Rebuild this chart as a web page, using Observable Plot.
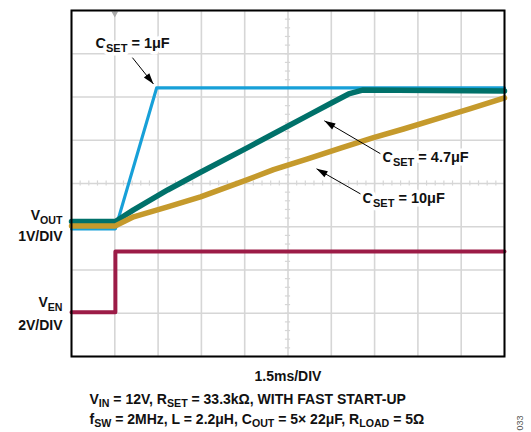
<!DOCTYPE html>
<html><head><meta charset="utf-8">
<script src="https://cdn.jsdelivr.net/npm/d3@7"></script>
<script src="https://cdn.jsdelivr.net/npm/@observablehq/plot@0.6"></script>
<style>body{margin:0;background:#fff} svg{display:block}</style>
</head><body><div id="chart"></div>
<script>
// ---- Scope settings ----
const msPerDiv = 1.5;                       // 1.5ms/DIV
const xGridMs = [0, 1.5, 3, 4.5, 6, 7.5, 9, 10.5, 12, 13.5, 15];
const yGridDiv = [0, 1, 2, 3, 4, 5, 6, 7, 8];
const voutOffsetDiv = 3, voutVoltsPerDiv = 1;   // VOUT 1V/DIV
const enOffsetDiv = 1, enVoltsPerDiv = 2;       // VEN 2V/DIV
const triggerMs = [1.5];

// ---- Traces (time in ms, voltage in V) ----
const c1Time  = [0, 1.52, 2.95, 15];
const c1Vout  = [-0.05, -0.05, 3.21, 3.21];

const c47Time = [0, 1.52, 2.15, 3.33, 4.47, 6.10, 7.00, 8.18, 8.97, 9.60, 10.08, 15];
const c47Vout = [0.12, 0.12, 0.39, 0.85, 1.26, 1.83, 2.15, 2.57, 2.85, 3.07, 3.16, 3.14];

const c10Time = [0, 1.52, 2.15, 3.33, 4.47, 6.10, 7.00, 8.18, 9.32, 10.46, 11.50, 12.68, 13.82, 15];
const c10Vout = [0.02, 0.02, 0.23, 0.46, 0.69, 1.09, 1.32, 1.57, 1.82, 2.06, 2.26, 2.50, 2.73, 2.98];

const enTime  = [0, 1.52, 1.52, 15];
const enVolts = [0.05, 0.05, 2.86, 2.86];

// ---- Annotations (time in ms, position in divisions) ----
const annLabels = ["C_{SET} = 1μF", "C_{SET} = 4.7μF", "C_{SET} = 10μF"];
const annLabelT = [0.83, 10.77, 10.08];
const annLabelY = [7.23, 4.60, 3.65];
const annFromT  = [2.11, 10.70, 10.01];
const annFromY  = [6.91, 4.69, 3.76];
const annToT    = [2.84, 8.76, 8.49];
const annToY    = [6.30, 5.45, 4.34];

const sideLabels = ["V_{OUT}", "1V/DIV", "V_{EN}", "2V/DIV"];
const sideLabelY = [3.25, 2.77, 1.24, 0.71];

const xLabel = "1.5ms/DIV";
const captionLines = [
  "V_{IN} = 12V, R_{SET} = 33.3kΩ, WITH FAST START-UP",
  "f_{SW} = 2MHz, L = 2.2μH, C_{OUT} = 5× 22μF, R_{LOAD} = 5Ω"
];
const figId = "033";

// ---- Build tables ----
const toRows = (ts, vs, off, vpd) => ts.map((t, i) => ({t, y: off + vs[i] / vpd}));
const c1 = toRows(c1Time, c1Vout, voutOffsetDiv, voutVoltsPerDiv);
const c47 = toRows(c47Time, c47Vout, voutOffsetDiv, voutVoltsPerDiv);
const c10 = toRows(c10Time, c10Vout, voutOffsetDiv, voutVoltsPerDiv);
const en = toRows(enTime, enVolts, enOffsetDiv, enVoltsPerDiv);
const ann = annLabels.map((label, i) => ({label, t: annLabelT[i], y: annLabelY[i],
  x1: annFromT[i], y1: annFromY[i], x2: annToT[i], y2: annToY[i]}));
const side = sideLabels.map((label, i) => ({label, y: sideLabelY[i]}));

const minorT = d3.range(0, 15.001, msPerDiv / 5);
const minorY = d3.range(0, 8.001, 0.2);

const gridColor = "#d6d6d6";
const font = "Liberation Sans, Arial, Helvetica, sans-serif";

const svg = Plot.plot({
  width: 531, height: 432,
  marginLeft: 71, marginRight: 27, marginTop: 10, marginBottom: 76,
  x: {domain: [0, 15], axis: null},
  y: {domain: [0, 8], axis: null},
  style: {fontFamily: font, background: "white", overflow: "visible"},
  marks: [
    Plot.ruleX(xGridMs, {stroke: gridColor, strokeWidth: 1.6}),
    Plot.ruleY(yGridDiv, {stroke: gridColor, strokeWidth: 1.6}),
    Plot.ruleX(minorT, {x: d => d, y1: 4 - 0.06, y2: 4 + 0.06, stroke: gridColor, strokeWidth: 1.2}),
    Plot.ruleY(minorY, {y: d => d, x1: 7.5 - 0.09, x2: 7.5 + 0.09, stroke: gridColor, strokeWidth: 1.2}),
    Plot.dot(triggerMs, {x: d => d, y: 8, symbol: "triangle", rotate: 180, r: 2.5, fill: "#aaa", dy: 3}),
    Plot.line(en, {x: "t", y: "y", stroke: "#9c1c47", strokeWidth: 4}),
    Plot.line(c1, {x: "t", y: "y", stroke: "#17a0d8", strokeWidth: 3.2}),
    Plot.line(c47, {x: "t", y: "y", stroke: "#00716a", strokeWidth: 5.5}),
    Plot.line(c10, {x: "t", y: "y", stroke: "#c59a2c", strokeWidth: 5.5}),
    Plot.frame({stroke: "black", strokeWidth: 2}),
    Plot.text(ann, {x: "t", y: "y", text: "label", textAnchor: "start", fontSize: 14.5, fontWeight: "bold",
      fill: "#111", stroke: "white", strokeWidth: 7}),
    Plot.link(ann, {x1: "x1", y1: "y1", x2: "x2", y2: "y2", stroke: "black", strokeWidth: 1, markerEnd: "arrow"}),
    Plot.text(side, {y: "y", text: "label", frameAnchor: "left", dx: -9, textAnchor: "end",
      fontSize: 14, fontWeight: "bold", fill: "#111"}),
    Plot.text([xLabel], {frameAnchor: "bottom", lineAnchor: "middle", dy: 20, fontSize: 14, fontWeight: "bold", fill: "#111"}),
    Plot.text(captionLines, {frameAnchor: "bottom-left", textAnchor: "start", lineAnchor: "middle",
      dx: 18, fontSize: 14, fontWeight: "bold", fill: "#111"}),
    Plot.text([figId], {frameAnchor: "bottom-right", lineAnchor: "middle", dx: 16, dy: 59, rotate: -90,
      fontSize: 9, fill: "#555"})
  ]
});

// place caption lines (two lines stacked)
d3.select(svg).selectAll("text").filter(function() {
  return captionLines.includes(this.textContent);
}).each(function() {
  const i = captionLines.indexOf(this.textContent);
  const tr = this.getAttribute("transform") || "";
  this.setAttribute("transform", tr + ` translate(0,${43 + i * 20})`);
});

// subscripts
d3.select(svg).selectAll("text").each(function() {
  const s = this.textContent;
  if (!s.includes("_{")) return;
  const parts = s.split(/(_\{[^}]*\})/).filter(p => p);
  this.textContent = "";
  let shifted = false;
  for (const p of parts) {
    const m = p.match(/^_\{(.*)\}$/);
    const ts = d3.select(this).append("tspan");
    if (m) { ts.text(m[1]).attr("font-size", "0.76em"); if (!shifted) ts.attr("dy", 3.5); shifted = true; }
    else { ts.text(p); if (shifted) ts.attr("dy", -3.5); shifted = false; }
  }
});

// filled arrowheads
d3.select(svg).selectAll("marker").each(function() {
  const m = d3.select(this);
  m.attr("fill", "black").attr("stroke", "none").attr("markerWidth", 24).attr("markerHeight", 24);
  m.selectAll("path").attr("d", "M-4.6,-1.45L0,0L-4.6,1.45Z");
});

document.getElementById("chart").append(svg);
</script>
</body></html>
